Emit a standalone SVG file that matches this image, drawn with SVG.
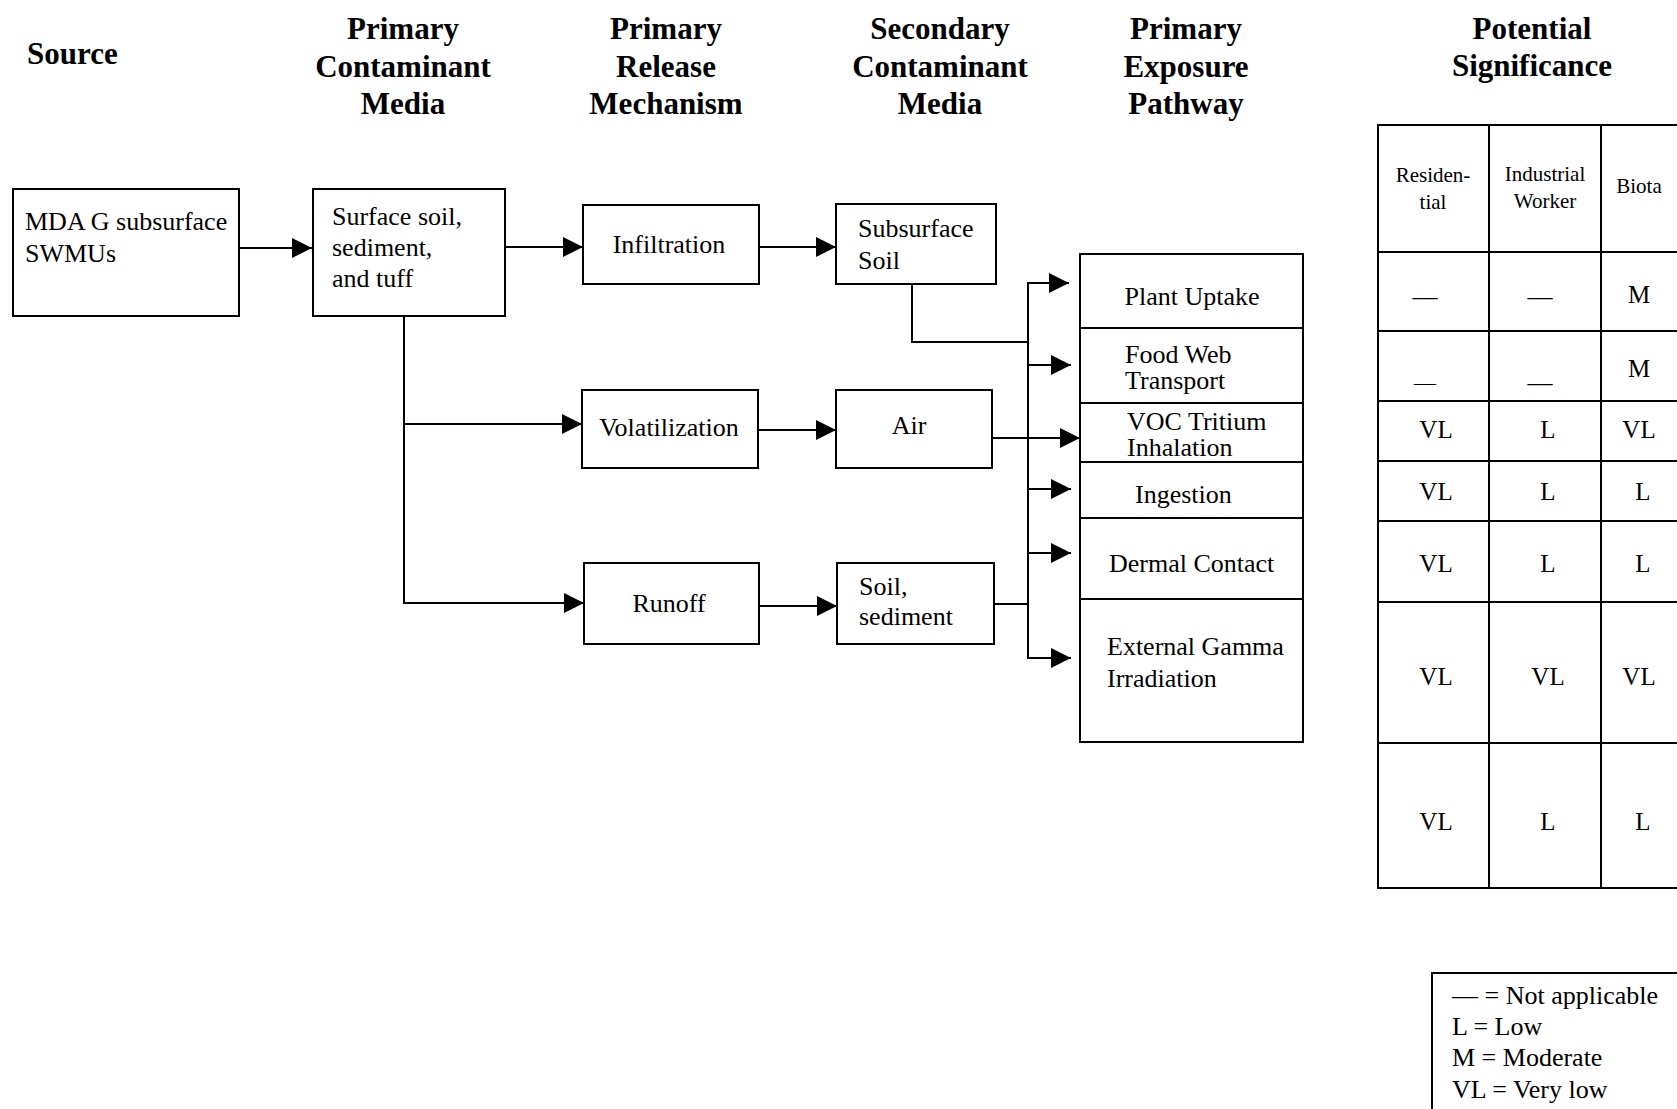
<svg xmlns="http://www.w3.org/2000/svg" width="1677" height="1109" viewBox="0 0 1677 1109">
  <defs>
    <marker id="arrow" markerUnits="userSpaceOnUse" markerWidth="22" markerHeight="22" refX="20" refY="10" orient="auto">
      <path d="M0,0 L20,10 L0,20 z" fill="#000"/>
    </marker>
    <style>
      .box { fill: #fff; stroke: #000; stroke-width: 2; }
      .line { fill: none; stroke: #000; stroke-width: 2; }
      .head { font-family: "Liberation Serif", "Times New Roman", serif; font-weight: bold; font-size: 31px; fill: #000; text-anchor: middle; }
      .txt { font-family: "Liberation Serif", "Times New Roman", serif; font-size: 26px; fill: #000; }
      .mid { text-anchor: middle; }
      .th { font-family: "Liberation Serif", "Times New Roman", serif; font-size: 21px; fill: #000; text-anchor: middle; }
      .val { font-family: "Liberation Serif", "Times New Roman", serif; font-size: 25px; fill: #000; text-anchor: middle; }
      .leg { font-family: "Liberation Serif", "Times New Roman", serif; font-size: 26px; fill: #000; }
    </style>
  </defs>
  <rect width="1677" height="1109" fill="#fff"/>

  <!-- column headings -->
  <g id="headings">
    <text class="head" x="27" y="64" style="text-anchor:start">Source</text>
    <text class="head" x="403" y="39">Primary</text>
    <text class="head" x="403" y="76.5">Contaminant</text>
    <text class="head" x="403" y="114">Media</text>
    <text class="head" x="666" y="39">Primary</text>
    <text class="head" x="666" y="76.5">Release</text>
    <text class="head" x="666" y="114">Mechanism</text>
    <text class="head" x="940" y="39">Secondary</text>
    <text class="head" x="940" y="76.5">Contaminant</text>
    <text class="head" x="940" y="114">Media</text>
    <text class="head" x="1186" y="39">Primary</text>
    <text class="head" x="1186" y="76.5">Exposure</text>
    <text class="head" x="1186" y="114">Pathway</text>
    <text class="head" x="1532" y="39">Potential</text>
    <text class="head" x="1532" y="76">Significance</text>
  </g>

  <!-- connectors -->
  <g id="connectors">
    <line class="line" x1="239" y1="248" x2="312" y2="248" marker-end="url(#arrow)"/>
    <line class="line" x1="505" y1="247" x2="583" y2="247" stroke-width="1.6" marker-end="url(#arrow)"/>
    <polyline class="line" points="404,316 404,603 584,603" marker-end="url(#arrow)"/>
    <line class="line" x1="404" y1="424" x2="582" y2="424" marker-end="url(#arrow)"/>
    <line class="line" x1="759" y1="247" x2="836" y2="247" marker-end="url(#arrow)"/>
    <line class="line" x1="758" y1="430" x2="836" y2="430" marker-end="url(#arrow)"/>
    <line class="line" x1="759" y1="606" x2="837" y2="606" marker-end="url(#arrow)"/>
    <polyline class="line" points="912,284 912,342 1028,342"/>
    <line class="line" x1="994" y1="604" x2="1028" y2="604"/>
    <polyline class="line" points="1028,658 1028,283 1069,283" marker-end="url(#arrow)"/>
    <line class="line" x1="1028" y1="365" x2="1071" y2="365" marker-end="url(#arrow)"/>
    <line class="line" x1="992" y1="438" x2="1080" y2="438" marker-end="url(#arrow)"/>
    <line class="line" x1="1028" y1="489" x2="1071" y2="489" marker-end="url(#arrow)"/>
    <line class="line" x1="1028" y1="553" x2="1071" y2="553" marker-end="url(#arrow)"/>
    <line class="line" x1="1027" y1="658" x2="1071" y2="658" marker-end="url(#arrow)"/>
  </g>

  <!-- source -->
  <g id="source">
    <rect class="box" x="13" y="189" width="226" height="127"/>
    <text class="txt" x="25" y="230">MDA G subsurface</text>
    <text class="txt" x="25" y="262">SWMUs</text>
  </g>

  <!-- primary contaminant media -->
  <g id="primary-media">
    <rect class="box" x="313" y="189" width="192" height="127"/>
    <text class="txt" x="332" y="225">Surface soil,</text>
    <text class="txt" x="332" y="256">sediment,</text>
    <text class="txt" x="332" y="287">and tuff</text>
  </g>

  <!-- release mechanisms -->
  <g id="infiltration">
    <rect class="box" x="583" y="205" width="176" height="79"/>
    <text class="txt mid" x="669" y="253">Infiltration</text>
  </g>
  <g id="volatilization">
    <rect class="box" x="582" y="390" width="176" height="78"/>
    <text class="txt mid" x="669" y="436">Volatilization</text>
  </g>
  <g id="runoff">
    <rect class="box" x="584" y="563" width="175" height="81"/>
    <text class="txt mid" x="669" y="612">Runoff</text>
  </g>

  <!-- secondary media -->
  <g id="subsurface-soil">
    <rect class="box" x="836" y="204" width="160" height="80"/>
    <text class="txt" x="858" y="237">Subsurface</text>
    <text class="txt" x="858" y="269">Soil</text>
  </g>
  <g id="air">
    <rect class="box" x="836" y="390" width="156" height="78"/>
    <text class="txt mid" x="909" y="434">Air</text>
  </g>
  <g id="soil-sediment">
    <rect class="box" x="837" y="563" width="157" height="81"/>
    <text class="txt" x="859" y="595">Soil,</text>
    <text class="txt" x="859" y="625">sediment</text>
  </g>

  <!-- exposure pathways -->
  <g id="exposure-pathways">
    <rect class="box" x="1080" y="254" width="223" height="488"/>
    <line class="line" x1="1080" y1="328" x2="1303" y2="328"/>
    <line class="line" x1="1080" y1="403" x2="1303" y2="403"/>
    <line class="line" x1="1080" y1="462" x2="1303" y2="462"/>
    <line class="line" x1="1080" y1="518" x2="1303" y2="518"/>
    <line class="line" x1="1080" y1="599" x2="1303" y2="599"/>
    <text class="txt mid" x="1192" y="305">Plant Uptake</text>
    <text class="txt" x="1125" y="363">Food Web</text>
    <text class="txt" x="1125" y="389">Transport</text>
    <text class="txt" x="1127" y="430">VOC Tritium</text>
    <text class="txt" x="1127" y="456">Inhalation</text>
    <text class="txt" x="1135" y="503">Ingestion</text>
    <text class="txt" x="1109" y="572">Dermal Contact</text>
    <text class="txt" x="1107" y="655">External Gamma</text>
    <text class="txt" x="1107" y="687">Irradiation</text>
  </g>

  <!-- significance table -->
  <g id="significance-table">
    <rect class="box" x="1378" y="125" width="330" height="763"/>
    <line class="line" x1="1489" y1="125" x2="1489" y2="888"/>
    <line class="line" x1="1601" y1="125" x2="1601" y2="888"/>
    <line class="line" x1="1378" y1="252" x2="1677" y2="252"/>
    <line class="line" x1="1378" y1="331" x2="1677" y2="331"/>
    <line class="line" x1="1378" y1="401" x2="1677" y2="401"/>
    <line class="line" x1="1378" y1="461" x2="1677" y2="461"/>
    <line class="line" x1="1378" y1="521" x2="1677" y2="521"/>
    <line class="line" x1="1378" y1="602" x2="1677" y2="602"/>
    <line class="line" x1="1378" y1="743" x2="1677" y2="743"/>
    <text class="th" x="1433" y="182">Residen-</text>
    <text class="th" x="1433" y="209">tial</text>
    <text class="th" x="1545" y="181">Industrial</text>
    <text class="th" x="1545" y="208">Worker</text>
    <text class="th" x="1639" y="193">Biota</text>

    <text class="val" x="1425" y="305">—</text>
    <text class="val" x="1540" y="305">—</text>
    <text class="val" x="1639" y="303">M</text>

    <text class="val" x="1425" y="390" style="font-size:22px">—</text>
    <text class="val" x="1540" y="382">__</text>
    <text class="val" x="1639" y="377">M</text>

    <text class="val" x="1436" y="438">VL</text>
    <text class="val" x="1548" y="438">L</text>
    <text class="val" x="1639" y="438">VL</text>

    <text class="val" x="1436" y="500">VL</text>
    <text class="val" x="1548" y="500">L</text>
    <text class="val" x="1643" y="500">L</text>

    <text class="val" x="1436" y="572">VL</text>
    <text class="val" x="1548" y="572">L</text>
    <text class="val" x="1643" y="572">L</text>

    <text class="val" x="1436" y="685">VL</text>
    <text class="val" x="1548" y="685">VL</text>
    <text class="val" x="1639" y="685">VL</text>

    <text class="val" x="1436" y="830">VL</text>
    <text class="val" x="1548" y="830">L</text>
    <text class="val" x="1643" y="830">L</text>
  </g>

  <!-- legend -->
  <g id="legend">
    <rect class="box" x="1432" y="973" width="280" height="160"/>
    <text class="leg" x="1452" y="1004">— = Not applicable</text>
    <text class="leg" x="1452" y="1035">L = Low</text>
    <text class="leg" x="1452" y="1066">M = Moderate</text>
    <text class="leg" x="1452" y="1098">VL = Very low</text>
  </g>
</svg>
